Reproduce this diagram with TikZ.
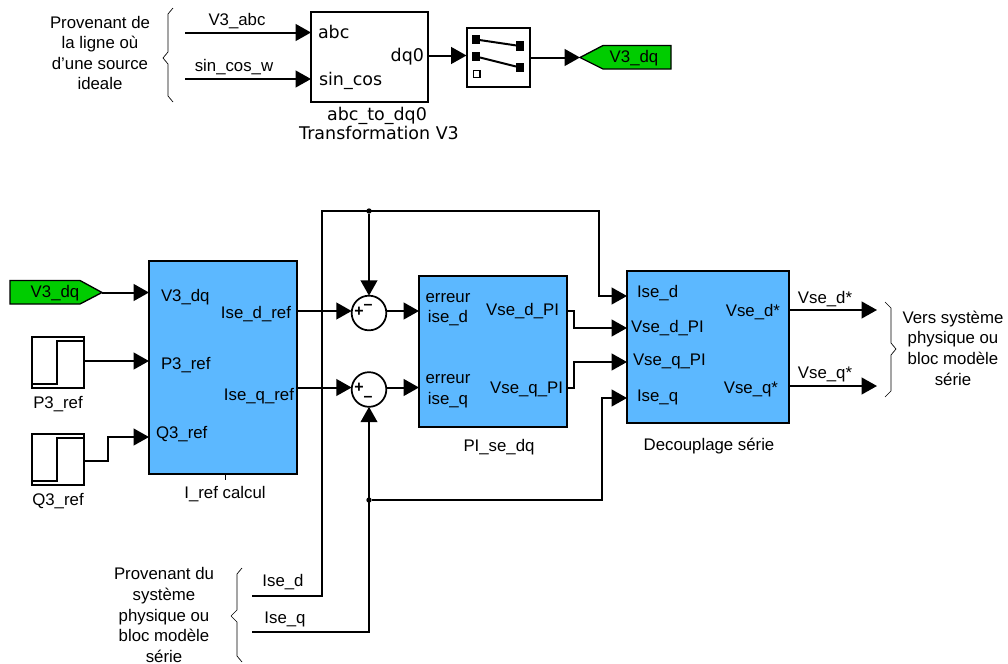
\documentclass[tikz,border=0pt]{standalone}
\usepackage{fontspec}
\setmainfont{Liberation Sans}
\newfontfamily\dejavu{DejaVu Sans}
\usepackage{xcolor}
\usetikzlibrary{shapes.geometric, arrows.meta, positioning, calc}
\definecolor{blocblue}{HTML}{5CB8FF}
\definecolor{taggreen}{HTML}{00CC00}
\tikzset{
  txt/.style    = {inner sep=0pt, outer sep=0pt, text height=10.4pt, text depth=1.6pt,
                   font=\fontsize{12.6}{15.5}\selectfont},
  txtD/.style   = {inner sep=0pt, outer sep=0pt, text height=11.2pt, text depth=1.2pt,
                   font=\dejavu\fontsize{13.1}{16}\selectfont},
  para/.style   = {inner sep=0pt, outer sep=0pt, align=center,
                   font=\fontsize{12.6}{15.45}\selectfont},
  bloc/.style   = {rectangle, draw, line width=1.5pt, fill=blocblue, inner sep=0pt, outer sep=0pt},
  blocW/.style  = {rectangle, draw, line width=1.5pt, fill=white, inner sep=0pt, outer sep=0pt},
  pad/.style    = {rectangle, fill=black, inner sep=0pt, outer sep=0pt, minimum width=6pt, minimum height=7pt},
  padO/.style   = {rectangle, draw, line width=1pt, fill=white, inner sep=0pt, outer sep=0pt, minimum width=5pt, minimum height=5.5pt},
  sum/.style    = {circle, draw, line width=1.3pt, fill=white, inner sep=0pt, outer sep=0pt, minimum size=26pt},
  dot/.style    = {circle, fill=black, inner sep=0pt, outer sep=0pt, minimum size=4pt},
  wire/.style   = {line width=1.5pt},
  arrow/.style  = {line width=1.5pt, -{Triangle[length=11.5pt, width=12.5pt]}},
  accol/.style  = {line width=0.5pt, line join=round},
  tag/.style    = {draw, line width=1pt, fill=taggreen},
}

\begin{document}
\begin{tikzpicture}[x=0.75pt, y=-0.75pt]
    \useasboundingbox (0,0) rectangle (1008,664);

    %% Top row
    \node[blocW, minimum width=87.75pt, minimum height=67.5pt] (abc) at (369.5,57) {};
    \node[blocW, minimum width=47.25pt, minimum height=44.25pt] (sw) at (498,57.5) {};
    \node[pad] (sa) at (476,39.5) {};
    \node[pad] (sb) at (476,56.5) {};
    \node[padO] (sc) at (476.5,74) {};
    \node[pad] (sd) at (520,46) {};
    \node[pad] (se) at (520,67.5) {};
    \draw[wire] (sa) -- (sd);
    \draw[wire] (sb) -- (se);

    \node[txtD, anchor=west] (labc) at (318,32) {abc};
    \node[txtD, anchor=west] (lsin) at (319,79) {sin\_cos};
    \node[txtD, anchor=east] (ldq) at (424,55) {dq0};
    \node[txtD] (nabc) at (377,114) {abc\_to\_dq0};
    \node[txtD] (ntr) at (379,133) {Transformation V3};

    \coordinate (inabc) at (185,32.5);
    \coordinate (insin) at (185,79);
    \draw[arrow] (inabc) -- (abc.west |- inabc);
    \draw[arrow] (insin) -- (abc.west |- insin);
    \node[txt] (lv3abc) at (237,20) {V3\_abc};
    \node[txt] (lsinw) at (234,66) {sin\_cos\_w};
    \draw[arrow] (abc.east |- 0,55.5) -- (sw.west |- 0,55.5);

    %% Goto tag
    \coordinate (tagT) at (580,57.5);
    \draw[tag] (tagT) -- (603,45.5) -- (671,45.5) -- (671,69) -- (603,69) -- cycle;
    \node[txt] (ltagT) at (634,57) {V3\_dq};
    \draw[arrow] (sw.east |- tagT) -- (tagT);

    \node[para] (lprov) at (100,53) {Provenant de\\la ligne où\\d’une source\\ideale};
    \draw[accol] (173,8) -- (168,14) -- (168,52) -- (163,58) -- (168,64) -- (168,96) -- (173,102);

    %% Blocks
    \node[bloc, minimum width=111pt, minimum height=159.75pt] (iref) at (223,367.5) {};
    \node[bloc, minimum width=111pt, minimum height=113.25pt] (pi) at (493,351.5) {};
    \node[bloc, minimum width=121.5pt, minimum height=114pt] (dec) at (708,347) {};
    \node[sum] (sumd) at (369,313) {};
    \node[sum] (sumq) at (369,389.5) {};

    %% Sum signs
    \foreach \s/\y in {sumd/311, sumq/387}
      \node[txt, font=\bfseries\fontsize{12}{14}\selectfont, text height=8pt, text depth=0pt] (\s p) at (359,\y) {+};
    \foreach \s/\y in {sumd/304, sumq/396}
      \node[txt, font=\bfseries\fontsize{12}{14}\selectfont, text height=8pt, text depth=0pt] (\s m) at (368,\y) {–};

    %% Sources
    \coordinate (tagV) at (102,292.5);
    \draw[tag] (tagV) -- (80,304) -- (10,304) -- (10,280.5) -- (80,280.5) -- cycle;
    \node[txt] (ltagV) at (55,292) {V3\_dq};
    \foreach \n/\y/\lbl in {cp/362.5/P3\_ref, cq/459.5/Q3\_ref}
    {
      \node[blocW, minimum width=39pt, minimum height=38.25pt] (\n) at (58,\y) {};
      \draw[wire] ($(\n.south west)+(0,-4.5)$) -- ++(25,0) -- ++(0,-43) -- ++(27,0);
      \node[txt] (l\n) at (58,\y+40) {\lbl};
    }
    \draw[arrow] (tagV) -- (iref.west |- tagV);
    \draw[arrow] (cp.east |- 0,361) -- (iref.west |- 0,361);
    \coordinate (qm) at (108,437);
    \draw[arrow] (cq.east |- 0,461) -| (qm) -- (iref.west |- qm);

    %% I_ref labels
    \foreach \n/\x/\y/\lbl in {a/161/296/V3\_dq, b/161/364/P3\_ref, c/156/433/Q3\_ref}
      \node[txt, anchor=west] (iref\n) at (\x,\y) {\lbl};
    \foreach \n/\x/\y/\lbl in {d/291/313/Ise\_d\_ref, e/294/395/Ise\_q\_ref}
      \node[txt, anchor=east] (iref\n) at (\x,\y) {\lbl};
    \coordinate (tick) at (225,480);
    \draw[line width=0.5pt] (iref.south -| tick) -- (tick);
    \node[txt] (liref) at (225,493) {I\_ref calcul};

    %% PI labels
    \node[para] (pia) at (448,309.5) {erreur\\ise\_d};
    \node[para] (pib) at (448,391.5) {erreur\\ise\_q};
    \node[txt, anchor=east] (pic) at (559,310) {Vse\_d\_PI};
    \node[txt, anchor=east] (pid) at (563,388) {Vse\_q\_PI};
    \node[txt] (lpi) at (499,446) {PI\_se\_dq};

    %% Decoupling labels
    \foreach \n/\x/\y/\lbl in {a/637/292/Ise\_d, b/631/327/Vse\_d\_PI, c/633/360/Vse\_q\_PI, d/637/396/Ise\_q}
      \node[txt, anchor=west] (dec\n) at (\x,\y) {\lbl};
    \foreach \n/\x/\y/\lbl in {e/780/311/Vse\_d*, f/778/388/Vse\_q*}
      \node[txt, anchor=east] (dec\n) at (\x,\y) {\lbl};
    \node[txt] (ldec) at (709,445) {Decouplage série};

    %% Signal wires
    \coordinate (wd) at (0,311);
    \coordinate (wq) at (0,387.5);
    \draw[arrow] (iref.east |- wd) -- (sumd.west |- wd);
    \draw[arrow] (iref.east |- wq) -- (sumq.west |- wq);
    \draw[arrow] (sumd.east |- wd) -- (pi.west |- wd);
    \draw[arrow] (sumq.east |- wq) -- (pi.west |- wq);

    \coordinate (kd) at (574,328);
    \coordinate (kq) at (574,362);
    \draw[arrow] (pi.east |- wd) -| (kd) -- (dec.west |- kd);
    \draw[arrow] (pi.east |- wq) -| (kq) -- (dec.west |- kq);

    %% Measured currents
    \coordinate (ised) at (252,596);
    \coordinate (iseq) at (252,632);
    \coordinate (busd) at (322,211);
    \coordinate (busr) at (599,211);
    \coordinate (edec) at (599,296);
    \node[dot] (jd) at (369,211) {};
    \draw[arrow] (ised) -| (busd) -- (busr) -- (edec) -- (dec.west |- edec);
    \draw[arrow] (jd) -- (sumd.north);

    \node[dot] (jq) at (369,500) {};
    \coordinate (busq) at (602,500);
    \coordinate (fdec) at (602,398);
    \draw[arrow] (iseq) -| (sumq.south);
    \draw[arrow] (jq) -- (busq) -- (fdec) -- (dec.west |- fdec);
    \node[txt] (lised) at (283,581) {Ise\_d};
    \node[txt] (liseq) at (285,618) {Ise\_q};

    \node[para] (lsys) at (164,615) {Provenant du\\système\\physique ou\\bloc modèle\\série};
    \draw[accol] (242,568) -- (237,574) -- (237,610) -- (231,616) -- (237,622) -- (237,656) -- (242,662);

    %% Outputs
    \coordinate (od) at (877,310);
    \coordinate (oq) at (877,386);
    \draw[arrow] (dec.east |- od) -- (od);
    \draw[arrow] (dec.east |- oq) -- (oq);
    \node[txt] (lod) at (825,298) {Vse\_d*};
    \node[txt] (loq) at (825,373) {Vse\_q*};
    \draw[accol] (885,302) -- (891,308) -- (891,343) -- (896,349) -- (891,355) -- (891,391) -- (885,397);
    \node[para] (lvers) at (953,348) {Vers système\\physique ou\\bloc modèle\\série};

\end{tikzpicture}
\end{document}
